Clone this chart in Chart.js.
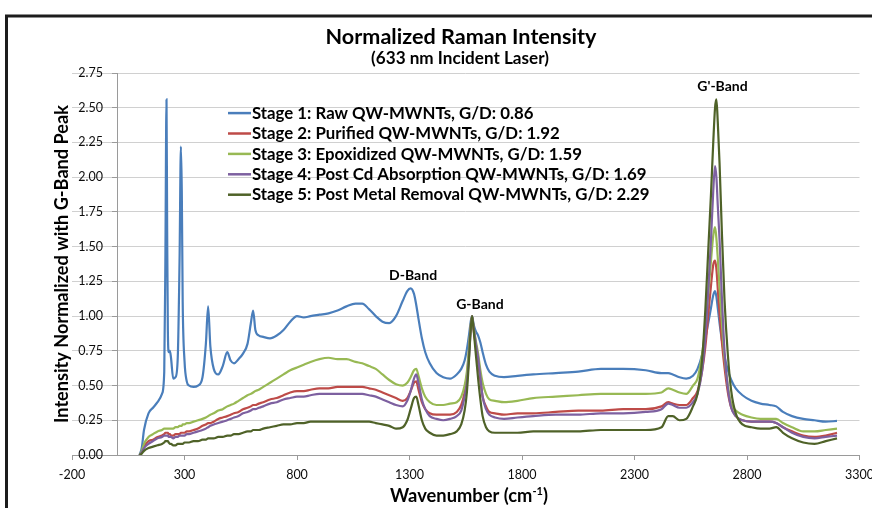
<!DOCTYPE html>
<html>
<head>
<meta charset="utf-8">
<script src="https://cdn.jsdelivr.net/npm/chart.js@4.4.1/dist/chart.umd.min.js"></script>
<style>
html, body { margin:0; padding:0; background:#ffffff; overflow:hidden; }
#wrap { position:relative; width:872px; height:508px; }
</style>
</head>
<body>
<div id="wrap"><canvas id="chart" width="872" height="508"></canvas></div>
<script>
// ---------------- DATA ----------------
const wavenumbers = [
  100,110,120,140,160,180,200,210,215,220,
  223,226,230,235,240,250,260,270,278,284,
  288,292,300,310,320,340,360,380,395,405,
  415,430,450,470,490,505,520,540,560,580,
  595,605,615,630,650,680,710,740,770,800,
  830,860,900,940,980,1020,1060,1090,1120,1150,
  1180,1210,1240,1270,1290,1305,1320,1330,1340,1355,
  1370,1390,1420,1450,1480,1510,1530,1545,1555,1565,
  1572,1578,1585,1595,1605,1615,1625,1640,1655,1680,
  1720,1780,1850,1950,2050,2150,2250,2350,2420,2450,
  2470,2500,2530,2560,2580,2600,2615,2630,2640,2650,
  2658,2664,2670,2678,2688,2700,2715,2730,2750,2780,
  2820,2860,2900,2930,2960,3000,3050,3100,3150,3200
];
const stage1Raw = [
  0.00,0.05,0.18,0.30,0.34,0.38,0.44,0.60,1.40,2.56,
  1.60,0.90,0.74,0.75,0.70,0.55,0.56,0.70,1.40,2.22,
  1.90,1.10,0.68,0.53,0.50,0.49,0.50,0.56,0.80,1.07,
  0.78,0.62,0.58,0.64,0.74,0.68,0.66,0.69,0.73,0.80,
  0.95,1.04,0.90,0.86,0.85,0.84,0.86,0.90,0.96,1.00,
  0.99,1.00,1.01,1.02,1.04,1.07,1.09,1.09,1.05,1.00,
  0.96,0.95,1.00,1.11,1.18,1.20,1.16,1.08,0.98,0.84,
  0.74,0.66,0.59,0.56,0.55,0.58,0.62,0.68,0.76,0.87,
  0.96,1.00,0.94,0.89,0.86,0.81,0.74,0.65,0.60,0.57,
  0.56,0.57,0.58,0.59,0.60,0.62,0.62,0.61,0.59,0.59,
  0.58,0.56,0.55,0.57,0.62,0.72,0.84,0.97,1.06,1.15,
  1.18,1.14,1.06,0.95,0.83,0.71,0.61,0.54,0.48,0.43,
  0.39,0.37,0.36,0.35,0.31,0.28,0.26,0.25,0.24,0.245
];
const stage2Purified = [
  0.00,0.02,0.06,0.10,0.11,0.13,0.14,0.15,0.16,0.16,
  0.16,0.16,0.15,0.15,0.14,0.14,0.15,0.15,0.15,0.16,
  0.16,0.16,0.16,0.17,0.17,0.18,0.19,0.21,0.22,0.23,
  0.23,0.24,0.26,0.27,0.28,0.29,0.30,0.31,0.33,0.34,
  0.35,0.36,0.36,0.37,0.38,0.40,0.41,0.43,0.45,0.46,
  0.46,0.47,0.48,0.48,0.49,0.49,0.49,0.49,0.48,0.47,
  0.45,0.43,0.41,0.39,0.41,0.46,0.52,0.53,0.47,0.38,
  0.33,0.30,0.29,0.29,0.29,0.31,0.36,0.45,0.56,0.76,
  0.92,1.00,0.90,0.78,0.67,0.54,0.42,0.35,0.31,0.30,
  0.29,0.30,0.30,0.31,0.32,0.32,0.33,0.33,0.35,0.38,
  0.37,0.36,0.36,0.41,0.46,0.60,0.78,1.05,1.22,1.37,
  1.40,1.34,1.20,1.02,0.82,0.63,0.45,0.34,0.28,0.25,
  0.24,0.24,0.24,0.23,0.20,0.17,0.14,0.13,0.14,0.16
];
const stage3Epoxidized = [
  0.00,0.03,0.08,0.13,0.15,0.17,0.18,0.19,0.19,0.19,
  0.19,0.19,0.19,0.19,0.19,0.19,0.20,0.20,0.21,0.21,
  0.21,0.22,0.22,0.23,0.23,0.24,0.25,0.26,0.27,0.28,
  0.29,0.30,0.32,0.33,0.35,0.36,0.37,0.39,0.41,0.43,
  0.44,0.45,0.46,0.47,0.49,0.52,0.55,0.58,0.61,0.63,
  0.65,0.67,0.69,0.70,0.69,0.69,0.67,0.66,0.64,0.62,
  0.58,0.54,0.51,0.50,0.52,0.56,0.61,0.62,0.57,0.48,
  0.42,0.38,0.36,0.36,0.37,0.38,0.42,0.50,0.60,0.78,
  0.93,1.00,0.92,0.82,0.73,0.61,0.52,0.44,0.40,0.39,
  0.38,0.39,0.41,0.42,0.43,0.44,0.44,0.44,0.45,0.48,
  0.47,0.45,0.44,0.50,0.55,0.72,0.92,1.20,1.40,1.58,
  1.64,1.56,1.42,1.20,0.96,0.70,0.50,0.37,0.32,0.29,
  0.27,0.26,0.26,0.26,0.23,0.20,0.17,0.17,0.18,0.19
];
const stage4PostCd = [
  0.00,0.02,0.05,0.08,0.10,0.12,0.13,0.14,0.14,0.14,
  0.14,0.14,0.13,0.13,0.13,0.12,0.13,0.13,0.14,0.14,
  0.14,0.14,0.14,0.15,0.15,0.16,0.17,0.18,0.19,0.20,
  0.21,0.22,0.23,0.24,0.25,0.26,0.27,0.28,0.30,0.31,
  0.32,0.33,0.33,0.34,0.35,0.37,0.38,0.40,0.41,0.42,
  0.42,0.43,0.44,0.44,0.44,0.44,0.44,0.44,0.43,0.42,
  0.40,0.38,0.36,0.35,0.39,0.46,0.55,0.58,0.52,0.40,
  0.33,0.28,0.26,0.25,0.26,0.28,0.32,0.42,0.52,0.72,
  0.90,1.00,0.92,0.80,0.70,0.56,0.42,0.33,0.29,0.27,
  0.26,0.27,0.28,0.29,0.29,0.30,0.30,0.31,0.33,0.37,
  0.36,0.34,0.34,0.38,0.44,0.60,0.85,1.25,1.55,1.90,
  2.08,2.00,1.80,1.55,1.15,0.75,0.48,0.34,0.28,0.25,
  0.24,0.24,0.24,0.23,0.20,0.16,0.13,0.12,0.13,0.14
];
const stage5PostMetal = [
  0.00,0.01,0.03,0.05,0.06,0.07,0.08,0.09,0.10,0.10,
  0.10,0.10,0.09,0.08,0.08,0.07,0.07,0.08,0.08,0.08,
  0.08,0.08,0.09,0.09,0.09,0.10,0.10,0.11,0.11,0.12,
  0.12,0.12,0.13,0.13,0.14,0.14,0.15,0.15,0.16,0.17,
  0.17,0.18,0.18,0.18,0.19,0.20,0.21,0.22,0.22,0.23,
  0.23,0.24,0.24,0.24,0.24,0.24,0.24,0.24,0.24,0.23,
  0.22,0.21,0.19,0.20,0.25,0.33,0.41,0.42,0.36,0.25,
  0.19,0.16,0.14,0.14,0.15,0.17,0.22,0.32,0.45,0.70,
  0.90,1.00,0.90,0.72,0.55,0.40,0.28,0.20,0.17,0.16,
  0.16,0.16,0.17,0.17,0.17,0.18,0.18,0.18,0.20,0.28,
  0.28,0.25,0.26,0.35,0.44,0.68,1.05,1.55,1.88,2.25,
  2.50,2.56,2.40,2.10,1.62,1.12,0.72,0.46,0.30,0.22,
  0.20,0.19,0.19,0.20,0.16,0.12,0.09,0.08,0.10,0.12
];
const seriesLabels = [
  'Stage 1: Raw QW-MWNTs, G/D: 0.86',
  'Stage 2: Purified QW-MWNTs, G/D: 1.92',
  'Stage 3: Epoxidized QW-MWNTs, G/D: 1.59',
  'Stage 4: Post Cd Absorption QW-MWNTs, G/D: 1.69',
  'Stage 5: Post Metal Removal QW-MWNTs, G/D: 2.29'
];
const xTickValues = [-200, 300, 800, 1300, 1800, 2300, 2800, 3300];
const yTickValues = [0, 0.25, 0.5, 0.75, 1, 1.25, 1.5, 1.75, 2, 2.25, 2.5, 2.75];
const bandLabels = ['D-Band', 'G-Band', "G'-Band"];
const titleText = 'Normalized Raman Intensity';
const subtitleText = '(633 nm Incident Laser)';
const yTitleText = 'Intensity Normalized with G-Band Peak';

// ---------------- STYLE / LAYOUT ----------------
const seriesValues = [stage1Raw, stage2Purified, stage3Epoxidized, stage4PostCd, stage5PostMetal];
const seriesColors = ['#4A7EBB', '#BE4B48', '#98B954', '#7D60A0', '#4F6228'];
const bandLabelAnchors = [ {x: 1316, y: 1.26}, {x: 1613, y: 1.05}, {x: 2691, y: 2.62} ];
const FONT = 'Lato, "Open Sans", sans-serif';

function fitFont(ctx, text, weight, width) {
  ctx.font = weight + ' 100px ' + FONT;
  return 100 * width / ctx.measureText(text).width;
}

const decor = {
  id: 'decor',
  afterDraw(chart) {
    const ctx = chart.ctx;
    const xs = chart.scales.x, ys = chart.scales.y;
    const ca = chart.chartArea;
    ctx.save();
    // chart frame (cropped Excel chart border)
    ctx.strokeStyle = '#1c1c1c';
    ctx.lineWidth = 3;
    ctx.beginPath();
    ctx.moveTo(6.5, 515); ctx.lineTo(6.5, 16); ctx.lineTo(880, 16);
    ctx.stroke();

    ctx.fillStyle = '#000';
    ctx.textBaseline = 'alphabetic';
    ctx.textAlign = 'center';
    // title + subtitle
    let s = fitFont(ctx, titleText, 'bold', 271);
    ctx.font = 'bold ' + s + 'px ' + FONT;
    ctx.fillText(titleText, 461, 43.5);
    s = fitFont(ctx, subtitleText, 'bold', 178);
    ctx.font = 'bold ' + s + 'px ' + FONT;
    ctx.fillText(subtitleText, 460, 64.3);

    // legend
    s = fitFont(ctx, seriesLabels[0], 'bold', 281.6);
    ctx.font = 'bold ' + s + 'px ' + FONT;
    ctx.textAlign = 'left';
    seriesLabels.forEach((lab, i) => {
      const yb = 118.7 + i * 20.4;
      ctx.strokeStyle = seriesColors[i];
      ctx.lineWidth = 2.5;
      ctx.beginPath();
      ctx.moveTo(228, yb - 5.6); ctx.lineTo(251, yb - 5.6);
      ctx.stroke();
      ctx.fillText(lab, 252, yb);
    });

    // band annotations
    s = fitFont(ctx, 'D-Band', 'bold', 48);
    ctx.font = 'bold ' + s + 'px ' + FONT;
    ctx.textAlign = 'center';
    bandLabels.forEach((t, i) => {
      const p = bandLabelAnchors[i];
      ctx.fillText(t, xs.getPixelForValue(p.x), ys.getPixelForValue(p.y));
    });

    // y axis title
    s = fitFont(ctx, yTitleText, 'bold', 318);
    ctx.font = 'bold ' + s + 'px ' + FONT;
    ctx.save();
    ctx.translate(67.5, (ca.top + ca.bottom) / 2);
    ctx.rotate(-Math.PI / 2);
    ctx.fillText(yTitleText, 0, 0);
    ctx.restore();

    // x axis title with superscript
    const mainA = 'Wavenumber (cm', sup = '-1', mainB = ')';
    ctx.font = 'bold 100px ' + FONT;
    const wA = ctx.measureText(mainA).width, wB = ctx.measureText(mainB).width;
    ctx.font = 'bold 60px ' + FONT;
    const wS = ctx.measureText(sup).width;
    const k = 158 / (wA + wB + wS);
    const fs = 100 * k;
    let x0 = 390;
    const base = 501.7;
    ctx.textAlign = 'left';
    ctx.font = 'bold ' + fs + 'px ' + FONT;
    ctx.fillText(mainA, x0, base);
    x0 += wA * k;
    ctx.font = 'bold ' + (fs * 0.6) + 'px ' + FONT;
    ctx.fillText(sup, x0, base - fs * 0.36);
    x0 += wS * k;
    ctx.font = 'bold ' + fs + 'px ' + FONT;
    ctx.fillText(mainB, x0, base);
    ctx.restore();
  }
};

const datasets = seriesValues.map((vals, i) => ({
  label: seriesLabels[i],
  data: wavenumbers.map((w, j) => ({x: w, y: vals[j]})),
  borderColor: seriesColors[i],
  backgroundColor: seriesColors[i],
  borderWidth: 2.2,
  pointRadius: 0,
  fill: false,
  cubicInterpolationMode: 'monotone',
  order: 5 - i
}));

const tickFont = {family: FONT, size: 12.5};

new Chart(document.getElementById('chart'), {
  type: 'line',
  data: { datasets },
  options: {
    responsive: false,
    animation: false,
    devicePixelRatio: 1,
    events: [],
    layout: { padding: { top: 73, left: 72, right: 12.5, bottom: 19 } },
    plugins: {
      legend: { display: false },
      tooltip: { enabled: false },
      title: { display: false }
    },
    scales: {
      x: {
        type: 'linear',
        min: -200, max: 3300,
        afterBuildTicks: s => { s.ticks = xTickValues.map(v => ({value: v})); },
        afterFit: s => { s.paddingLeft = 0; s.paddingRight = 0; },
        ticks: { font: tickFont, color: '#0d0d0d', padding: 7, maxRotation: 0, autoSkip: false,
                 callback: v => String(v) },
        grid: { drawOnChartArea: false, drawTicks: true, tickLength: 5, tickColor: '#9a9a9a' },
        border: { color: '#9a9a9a', width: 1 }
      },
      y: {
        type: 'linear',
        min: 0, max: 2.75,
        position: { x: 0 },
        afterBuildTicks: s => { s.ticks = yTickValues.map(v => ({value: v})); },
        ticks: { display: false },
        grid: { color: '#d0d0d0', tickLength: 5, tickColor: '#9a9a9a' },
        border: { color: '#9a9a9a', width: 1 }
      },
      yLabels: {
        type: 'linear',
        axis: 'y',
        min: 0, max: 2.75,
        position: { x: -62 },
        afterBuildTicks: s => { s.ticks = yTickValues.map(v => ({value: v})); },
        ticks: { font: tickFont, color: '#0d0d0d', callback: v => Number(v).toFixed(2) },
        grid: { display: false },
        border: { display: false }
      }
    }
  },
  plugins: [decor]
});
</script>
</body>
</html>
